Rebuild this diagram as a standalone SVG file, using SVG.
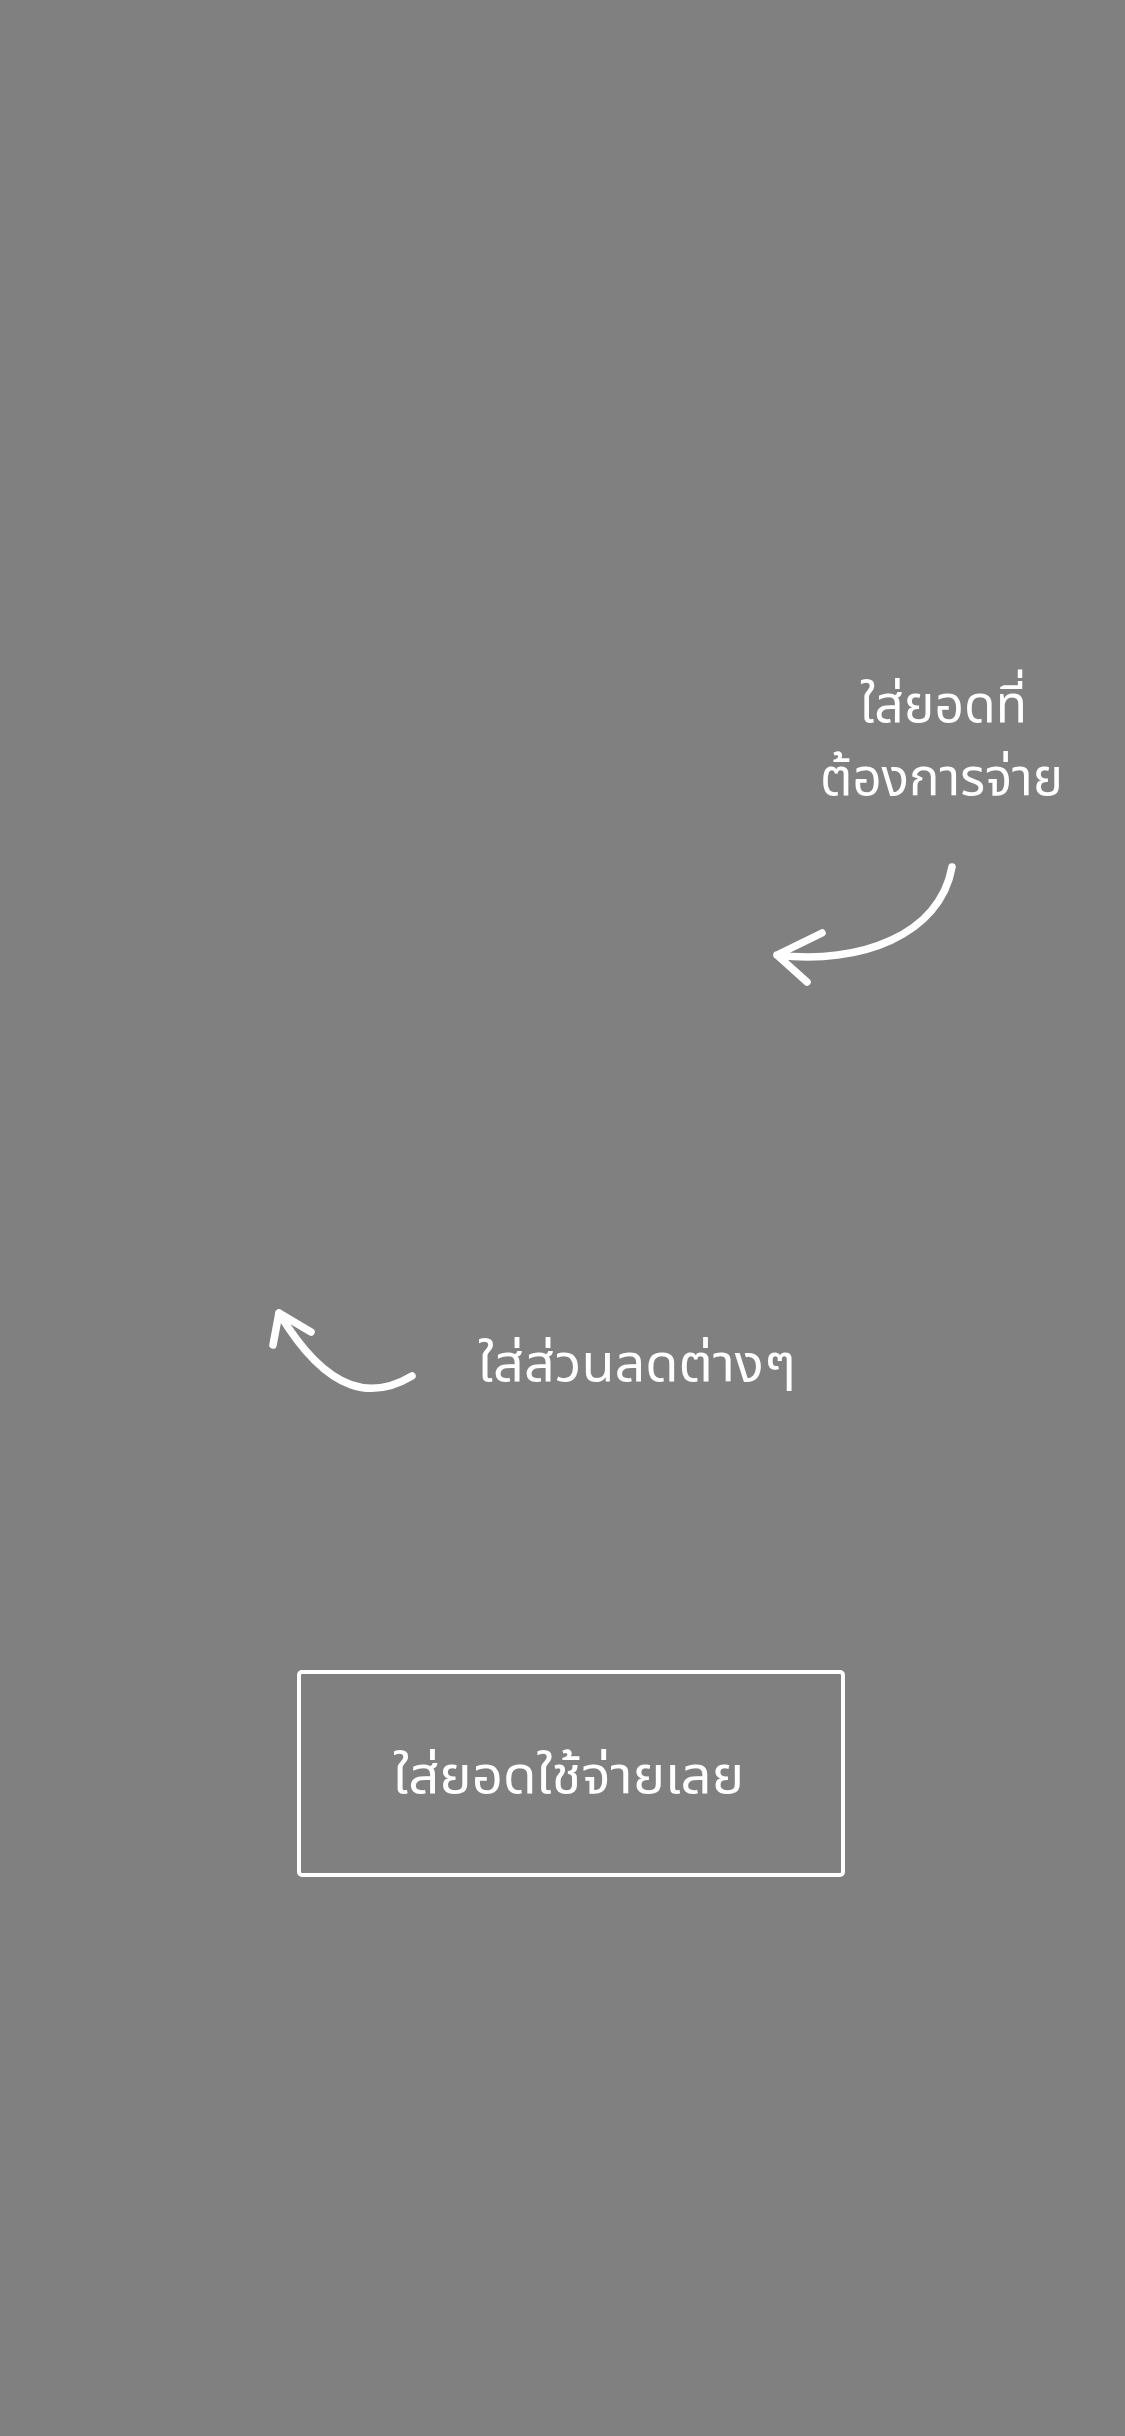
<svg xmlns="http://www.w3.org/2000/svg" width="1125" height="2436" viewBox="0 0 1125 2436">
<style>
.t{font-family:"Noto Sans Thai","Noto Sans",sans-serif;font-size:52px;fill:#ffffff}
.c{fill:none;stroke:#ffffff;stroke-width:7.5;stroke-linecap:round;stroke-linejoin:round}
</style>
<rect x="0" y="0" width="1125" height="2436" fill="#808080"/>
<g id="label-amount">
<text class="t"><tspan x="860" y="722" textLength="167" lengthAdjust="spacingAndGlyphs">ใส่ยอดที่</tspan><tspan x="820" y="795" textLength="243" lengthAdjust="spacingAndGlyphs">ต้องการจ่าย</tspan></text>
</g>
<g id="label-discount">
<text class="t" x="478" y="1381" textLength="318" lengthAdjust="spacingAndGlyphs">ใส่ส่วนลดต่างๆ</text>
</g>
<g id="button">
<rect x="299" y="1672" width="544" height="203" rx="3" fill="none" stroke="#ffffff" stroke-width="4"/>
<text class="t" x="393" y="1793" textLength="351" lengthAdjust="spacingAndGlyphs">ใส่ยอดใช้จ่ายเลย</text>
</g>
<g id="connectors">
<path class="c" d="M952 867 C940 935 860 965 777 955 M822 933 L777 955 L807 982"/>
<path class="c" d="M412 1376 C375 1398 330 1398 279 1313 M311 1332 L279 1313 L273 1345"/>
</g>
</svg>
